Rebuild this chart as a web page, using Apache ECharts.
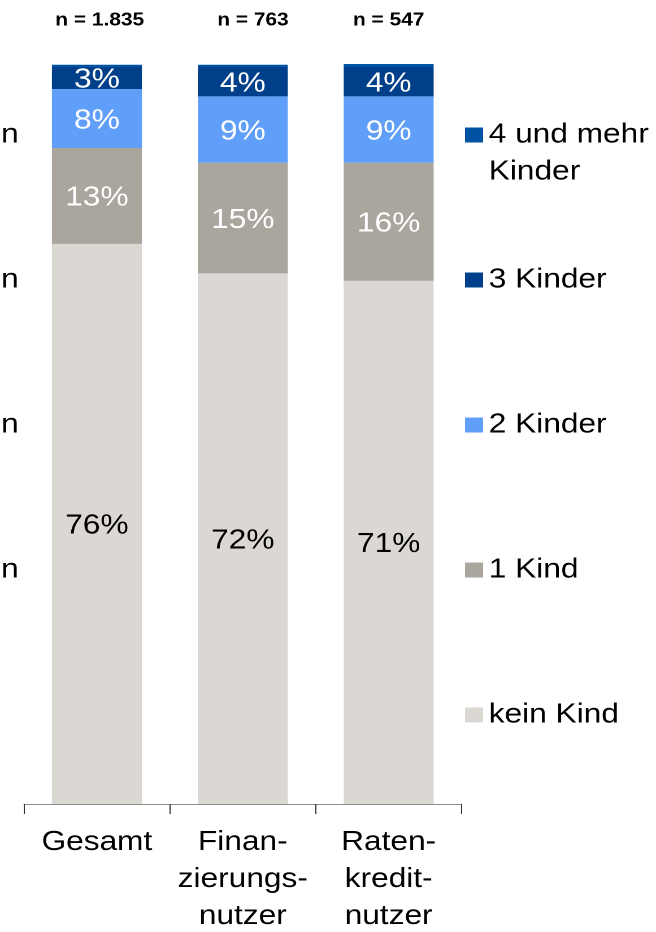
<!DOCTYPE html>
<html>
<head>
<meta charset="utf-8">
<script src="https://cdn.jsdelivr.net/npm/echarts@6/dist/echarts.min.js"></script>
<style>
  html, body { margin: 0; padding: 0; background: #ffffff; overflow: hidden; }
  /* the chart is laid out narrower and widened on screen, giving the broad lettering */
  #chart { width: 580.5px; height: 932px; transform: scaleX(1.13); transform-origin: 0 0; }
</style>
</head>
<body>
<div id="chart"></div>
<script>
// Gruppen und Stichprobengrößen
const categories = ['Gesamt', 'Finan-\nzierungs-\nnutzer', 'Raten-\nkredit-\nnutzer'];
const sampleSizes = ['n = 1.835', 'n = 763', 'n = 547'];

// Anteile in Prozent je Kinderzahl
const keinKind = [76, 72, 71];
const einKind = [13, 15, 16];
const zweiKinder = [8, 9, 9];
const dreiKinder = [3, 4, 4];
const vierUndMehr = [0.3, 0.3, 0.4];

const seriesNames = ['kein Kind', '1 Kind', '2 Kinder', '3 Kinder', '4 und mehr Kinder'];
const seriesData = [keinKind, einKind, zweiKinder, dreiKinder, vierUndMehr];
const colors = ['#dbd8d4', '#aaa59d', '#5f9ff9', '#00408a', '#0052a4'];
const labelColors = ['#000000', '#ffffff', '#ffffff', '#ffffff', null];

// horizontal nudge (px) of each sample-size caption
const sampleShift = [5, 18, 0];

const FONT = '"Liberation Sans", Arial, sans-serif';

const chart = echarts.init(document.getElementById('chart'), null, {
  renderer: 'canvas',
  devicePixelRatio: 2
});

const series = seriesNames.map((name, i) => ({
  name: name,
  type: 'bar',
  stack: 'gesamt',
  barWidth: 79.6,
  data: seriesData[i],
  itemStyle: { color: colors[i] },
  label: {
    show: labelColors[i] !== null,
    position: 'inside',
    offset: [0, 2],
    formatter: '{c}%',
    color: labelColors[i] || '#fff',
    fontFamily: FONT,
    fontSize: 28,
    textBorderWidth: 0
  },
  emphasis: { disabled: true }
}));

// One legend block per entry, stacked top to bottom
const legendOrder = ['4 und mehr Kinder', '3 Kinder', '2 Kinder', '1 Kind', 'kein Kind'];
const legendTops = [79.5, 261.5, 406.5, 551.5, 696.5];
const legends = legendOrder.map((name, i) => ({
  data: [name],
  orient: 'vertical',
  left: 411.5,
  top: legendTops[i],
  padding: 0,
  icon: 'rect',
  itemWidth: 16,
  itemHeight: 15,
  selectedMode: false,
  formatter: n => n === '4 und mehr Kinder' ? '\n4 und mehr\nKinder' : n,
  textStyle: {
    fontFamily: FONT,
    fontSize: 28,
    lineHeight: 37,
    color: '#000000'
  }
}));

// Cut-off text fragments along the left edge
const leftMarks = [135, 280, 425, 570].map(y => ({
  type: 'text',
  x: 1,
  y: y,
  style: {
    text: 'n',
    font: '28px ' + FONT,
    fill: '#000000',
    textVerticalAlign: 'middle'
  }
}));

chart.setOption({
  animation: false,
  color: colors,
  grid: {
    left: 21.2, right: 172.5, top: 64, bottom: 128,
    containLabel: false,
    outerBoundsMode: 'none'
  },
  legend: legends,
  xAxis: [
    {
      type: 'category',
      data: categories,
      position: 'bottom',
      axisLine: { show: true, lineStyle: { color: '#8c8c8c', width: 1 } },
      axisTick: { show: true, length: 10, lineStyle: { color: '#333333', width: 1 } },
      axisLabel: {
        margin: 20,
        fontFamily: FONT,
        fontSize: 28,
        lineHeight: 37,
        color: '#000000',
        interval: 0
      }
    },
    {
      type: 'category',
      data: sampleSizes.map((v, i) => ({
        value: v,
        textStyle: { padding: [0, 0, 0, sampleShift[i]] }
      })),
      position: 'top',
      axisLine: { show: false },
      axisTick: { show: false },
      axisLabel: {
        margin: 34,
        fontFamily: FONT,
        fontSize: 18.5,
        fontWeight: 'bold',
        color: '#000000',
        interval: 0
      }
    }
  ],
  yAxis: {
    type: 'value',
    min: 0,
    max: v => v.max,
    show: false,
    splitLine: { show: false }
  },
  series: series,
  graphic: leftMarks
});
</script>
</body>
</html>
